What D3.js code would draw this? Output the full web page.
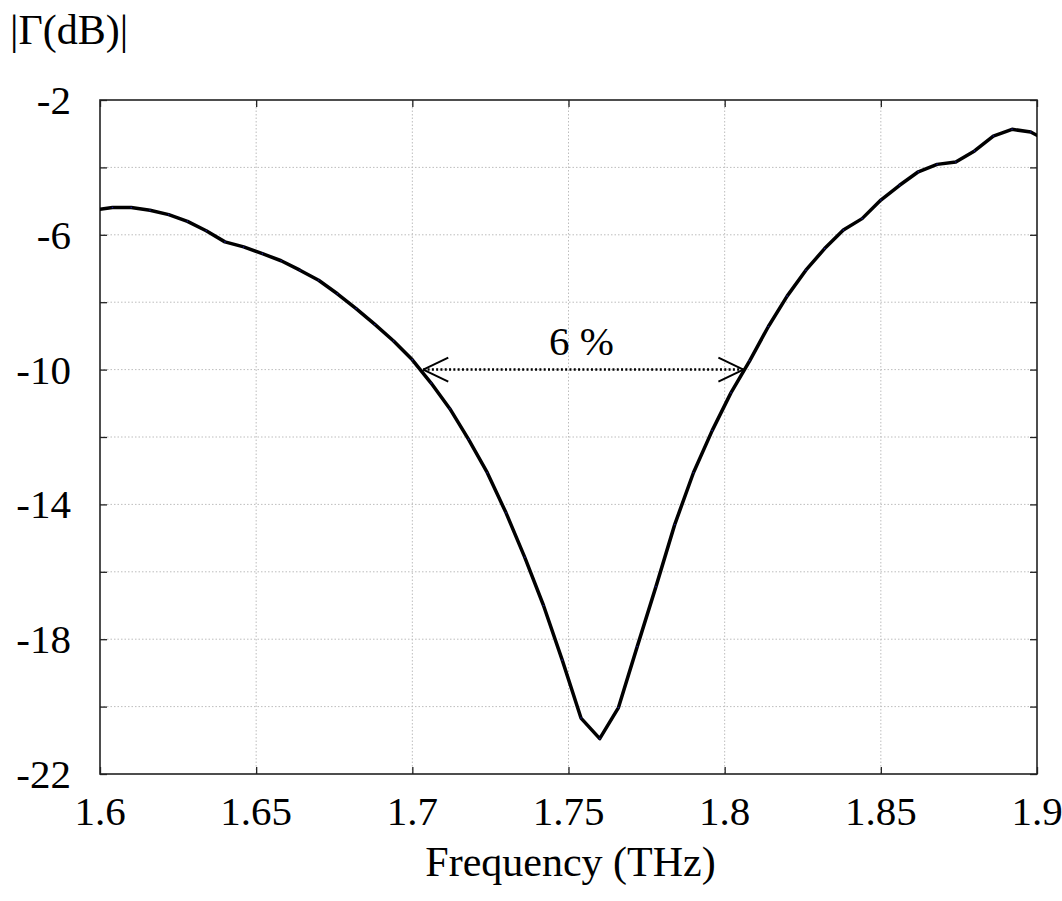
<!DOCTYPE html>
<html>
<head>
<meta charset="utf-8">
<script src="https://cdn.jsdelivr.net/npm/d3@7"></script>
<style>
  body { margin: 0; background: #fff; }
  text { font-family: "Liberation Serif", "DejaVu Serif", serif; fill: #000; }
</style>
</head>
<body>
<div id="chart"></div>
<script>
// reflection coefficient samples (THz, dB)
var freq = [1.598, 1.604, 1.610, 1.616, 1.622, 1.628, 1.634, 1.640, 1.646, 1.652,
            1.658, 1.664, 1.670, 1.676, 1.682, 1.688, 1.694, 1.700, 1.706, 1.712,
            1.718, 1.724, 1.730, 1.736, 1.742, 1.748, 1.754, 1.760, 1.766, 1.772,
            1.778, 1.784, 1.790, 1.796, 1.802, 1.808, 1.814, 1.820, 1.826, 1.832,
            1.838, 1.844, 1.850, 1.856, 1.862, 1.868, 1.874, 1.880, 1.886, 1.892,
            1.898, 1.904];
var gammaDb = [-5.27, -5.19, -5.19, -5.27, -5.40, -5.60, -5.88, -6.21, -6.36, -6.56,
               -6.77, -7.05, -7.35, -7.75, -8.19, -8.66, -9.15, -9.71, -10.40, -11.16,
               -12.07, -13.06, -14.25, -15.57, -17.00, -18.62, -20.34, -20.95, -20.03, -18.22,
               -16.44, -14.60, -13.06, -11.81, -10.69, -9.74, -8.72, -7.82, -7.05, -6.41,
               -5.86, -5.52, -4.97, -4.53, -4.13, -3.91, -3.84, -3.51, -3.07, -2.87,
               -2.95, -3.25];

var xTicks = [1.6, 1.65, 1.7, 1.75, 1.8, 1.85, 1.9];
var xTickLabels = ["1.6", "1.65", "1.7", "1.75", "1.8", "1.85", "1.9"];
var yGrid = [-22, -20, -18, -16, -14, -12, -10, -8, -6, -4, -2];
var yTickLabels = [-2, -6, -10, -14, -18, -22];

// bandwidth annotation at -10 dB
var bandEdges = [1.7035, 1.806];
var bandLevel = -10;
var bandLabel = "6 %";

var width = 1062, height = 901;
var margin = {top: 100, right: 25, bottom: 127, left: 100};

var svg = d3.select("#chart").append("svg")
            .attr("width", width)
            .attr("height", height);

var x = d3.scaleLinear()
          .domain([1.6, 1.9])
          .range([margin.left, width - margin.right]);

var y = d3.scaleLinear()
          .domain([-22, -2])
          .range([height - margin.bottom, margin.top]);

// clip for the curve
svg.append("clipPath")
   .attr("id", "plotclip")
   .append("rect")
   .attr("x", x(1.6)).attr("y", y(-2))
   .attr("width", x(1.9) - x(1.6)).attr("height", y(-22) - y(-2));

// grid
var grid = svg.append("g").attr("class", "grid");
grid.selectAll("line.gx")
    .data(xTicks.slice(1, -1))
    .enter().append("line")
    .attr("x1", function(d) { return x(d); })
    .attr("x2", function(d) { return x(d); })
    .attr("y1", y(-2)).attr("y2", y(-22))
    .style("stroke", "#bdbdbd").style("stroke-width", 1)
    .style("stroke-dasharray", "1.5,2");
grid.selectAll("line.gy")
    .data(yGrid.slice(1, -1))
    .enter().append("line")
    .attr("y1", function(d) { return y(d); })
    .attr("y2", function(d) { return y(d); })
    .attr("x1", x(1.6)).attr("x2", x(1.9))
    .style("stroke", "#bdbdbd").style("stroke-width", 1)
    .style("stroke-dasharray", "1.5,2");

// inner ticks on all four sides
svg.append("g")
   .attr("transform", "translate(0," + y(-22) + ")")
   .call(d3.axisBottom(x).tickValues(xTicks).tickSizeInner(-7).tickSizeOuter(0).tickFormat(""))
   .call(function(g) { g.select(".domain").remove(); });
svg.append("g")
   .attr("transform", "translate(0," + y(-2) + ")")
   .call(d3.axisTop(x).tickValues(xTicks).tickSizeInner(-7).tickSizeOuter(0).tickFormat(""))
   .call(function(g) { g.select(".domain").remove(); });
svg.append("g")
   .attr("transform", "translate(" + x(1.6) + ",0)")
   .call(d3.axisLeft(y).tickValues(yGrid).tickSizeInner(-7).tickSizeOuter(0).tickFormat(""))
   .call(function(g) { g.select(".domain").remove(); });
svg.append("g")
   .attr("transform", "translate(" + x(1.9) + ",0)")
   .call(d3.axisRight(y).tickValues(yGrid).tickSizeInner(-7).tickSizeOuter(0).tickFormat(""))
   .call(function(g) { g.select(".domain").remove(); });
svg.selectAll(".tick line").style("stroke", "#222").style("stroke-width", 1.3);

// frame
svg.append("rect")
   .attr("x", x(1.6)).attr("y", y(-2))
   .attr("width", x(1.9) - x(1.6)).attr("height", y(-22) - y(-2))
   .style("fill", "none").style("stroke", "#222").style("stroke-width", 1.6);

// tick labels
svg.append("g").selectAll("text")
   .data(xTicks)
   .enter().append("text")
   .attr("x", function(d) { return x(d); })
   .attr("y", y(-22) + 51)
   .attr("text-anchor", "middle")
   .style("font-size", "41px")
   .text(function(d, i) { return xTickLabels[i]; });

svg.append("g").selectAll("text")
   .data(yTickLabels)
   .enter().append("text")
   .attr("x", x(1.6) - 29)
   .attr("y", function(d) { return y(d) + 14; })
   .attr("text-anchor", "end")
   .style("font-size", "41px")
   .text(function(d) { return d; });

// axis titles
svg.append("text")
   .attr("x", (x(1.6) + x(1.9)) / 2 + 2)
   .attr("y", 876)
   .attr("text-anchor", "middle")
   .style("font-size", "42px")
   .text("Frequency (THz)");

svg.append("text")
   .attr("x", 10)
   .attr("y", 44)
   .style("font-size", "42px")
   .text("|\u0393(dB)|");

// curve
var line = d3.line()
             .x(function(d, i) { return x(freq[i]); })
             .y(function(d) { return y(d); });

svg.append("path")
   .datum(gammaDb)
   .attr("clip-path", "url(#plotclip)")
   .attr("d", line)
   .style("fill", "none")
   .style("stroke", "#000")
   .style("stroke-width", 3.5)
   .style("stroke-linejoin", "round");

svg.append("g")
   .attr("clip-path", "url(#plotclip)")
   .selectAll("circle")
   .data(gammaDb)
   .enter().append("circle")
   .attr("cx", function(d, i) { return x(freq[i]); })
   .attr("cy", function(d) { return y(d); })
   .attr("r", 0.8)
   .style("fill", "#1a1a8c");

// bandwidth arrow
var ann = svg.append("g");
ann.append("line")
   .attr("x1", x(bandEdges[0])).attr("x2", x(bandEdges[1]))
   .attr("y1", y(bandLevel)).attr("y2", y(bandLevel))
   .style("stroke", "#000").style("stroke-width", 2.5)
   .style("stroke-dasharray", "2,2.3");

bandEdges.forEach(function(f, i) {
  var dir = i === 0 ? 1 : -1;
  [-12, 12].forEach(function(dy) {
    ann.append("line")
       .attr("x1", x(f)).attr("y1", y(bandLevel))
       .attr("x2", x(f) + dir * 25).attr("y2", y(bandLevel) + dy)
       .style("stroke", "#000").style("stroke-width", 2);
  });
});

ann.append("text")
   .attr("x", x((bandEdges[0] + bandEdges[1]) / 2) - 2)
   .attr("y", y(bandLevel) - 15)
   .attr("text-anchor", "middle")
   .style("font-size", "41px")
   .text(bandLabel);
</script>
</body>
</html>
